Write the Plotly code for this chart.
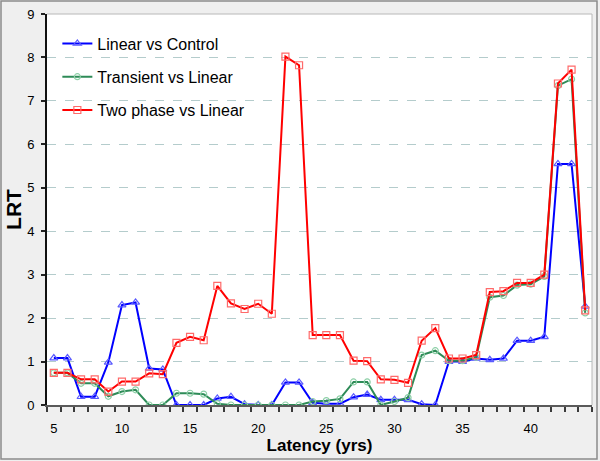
import plotly.graph_objects as go

latency = list(range(5, 45))

linear_vs_control = [1.08, 1.08, 0.19, 0.19, 0.98, 2.30, 2.36, 0.84, 0.82, 0.0,
                     0.0, 0.0, 0.15, 0.19, 0.02, 0.0, 0.0, 0.52, 0.52, 0.05,
                     0.03, 0.03, 0.18, 0.24, 0.12, 0.12, 0.12, 0.02, 0.0, 1.0,
                     1.0, 1.07, 1.04, 1.07, 1.48, 1.48, 1.57, 5.55, 5.55, 2.27]

transient_vs_linear = [0.74, 0.74, 0.50, 0.50, 0.20, 0.31, 0.35, 0.0, 0.0, 0.27,
                       0.27, 0.25, 0.03, 0.0, 0.0, 0.0, 0.0, 0.0, 0.0, 0.08,
                       0.10, 0.14, 0.53, 0.53, 0.0, 0.08, 0.17, 1.15, 1.25, 1.02,
                       1.02, 1.10, 2.48, 2.52, 2.76, 2.78, 2.96, 7.35, 7.50, 2.12]

two_phase_vs_linear = [0.74, 0.74, 0.59, 0.59, 0.31, 0.54, 0.54, 0.73, 0.71, 1.43,
                       1.57, 1.49, 2.74, 2.34, 2.21, 2.33, 2.10, 8.02, 7.82, 1.61,
                       1.61, 1.61, 1.02, 1.01, 0.59, 0.58, 0.51, 1.48, 1.77, 1.07,
                       1.07, 1.15, 2.60, 2.62, 2.81, 2.81, 3.00, 7.40, 7.72, 2.18]

x_tick_vals = [5, 10, 15, 20, 25, 30, 35, 40]
y_tick_vals = [0, 1, 2, 3, 4, 5, 6, 7, 8, 9]

series = [
    ("Linear vs Control", linear_vs_control, "#0000ff", "#5a5aff", "triangle-up-open", 7),
    ("Transient vs Linear", transient_vs_linear, "#2e8b57", "#8ccfa6", "circle-open", 6),
    ("Two phase vs Linear", two_phase_vs_linear, "#ff0000", "#ff6a6a", "square-open", 7),
]

fig = go.Figure()
for i, (name, vals, lc, mc, sym, sz) in enumerate(series):
    fig.add_trace(go.Scatter(
        x=latency, y=vals, name=name, mode="lines+markers",
        legendgroup=f"g{i}",
        line=dict(color=lc, width=2),
        marker=dict(symbol=sym, size=sz, color=mc, line=dict(width=1.2, color=mc)),
    ))

# plot area: x 47..592, y 14..405
L, R, T, B = 47, 592, 14, 405
W, H = R - L, B - T

def px(x):
    return (x - L) / W

def py(y):
    return (B - y) / H

shapes = [
    # outer frame
    dict(type="rect", xref="paper", yref="paper",
         x0=px(1), x1=px(597), y0=py(459), y1=py(1),
         line=dict(color="#8c8c8c", width=1.5), layer="below"),
    # plot area top and right border
    dict(type="line", xref="paper", yref="paper", x0=0, x1=1, y0=1, y1=1,
         line=dict(color="#b8b8b8", width=1)),
    dict(type="line", xref="paper", yref="paper", x0=1, x1=1, y0=0, y1=1,
         line=dict(color="#b8b8b8", width=1)),
]

fig.update_layout(
    width=600, height=461,
    margin=dict(l=L, r=600 - R, t=T, b=461 - B, autoexpand=False),
    paper_bgcolor="#efefef",
    plot_bgcolor="#ffffff",
    font=dict(family="Liberation Sans, Arial, sans-serif", color="#000000", size=13),
    showlegend=True,
    legend=dict(x=0.019, y=0.968, xanchor="left", yanchor="top",
                bgcolor="rgba(0,0,0,0)", font=dict(size=16),
                tracegroupgap=9.5, itemwidth=30),
    shapes=shapes,
    xaxis=dict(
        range=[4.5, 44.5], tickmode="array", tickvals=x_tick_vals,
        ticks="", showgrid=False, zeroline=False,
        showline=True, linecolor="#5a5a5a", linewidth=2,
        ticklabelstandoff=10,
        tickfont=dict(size=13),
        minor=dict(ticks="outside", ticklen=5, tickwidth=1.5, tickcolor="#3a3a3a",
                   tickmode="linear", tick0=4.5, dtick=1, showgrid=False),
        title=dict(text="<b>Latency (yrs)</b>", font=dict(size=17), standoff=2),
    ),
    yaxis=dict(
        range=[0, 9], tickmode="array", tickvals=y_tick_vals,
        ticks="outside", ticklen=4, tickwidth=1.5, tickcolor="#222222",
        showgrid=True, gridcolor="#b4cccc", griddash="dash", gridwidth=1,
        zeroline=False, showline=True, linecolor="#111111", linewidth=2,
        tickfont=dict(size=13), ticklabelstandoff=4,
        title=dict(text="<b>LRT</b>", font=dict(size=21), standoff=0),
    ),
)

fig.write_html(
    "out.html",
    config={"displayModeBar": False},
    post_script="document.body.style.margin='0';document.body.style.padding='0';"
                "document.body.style.overflow='hidden';",
)
